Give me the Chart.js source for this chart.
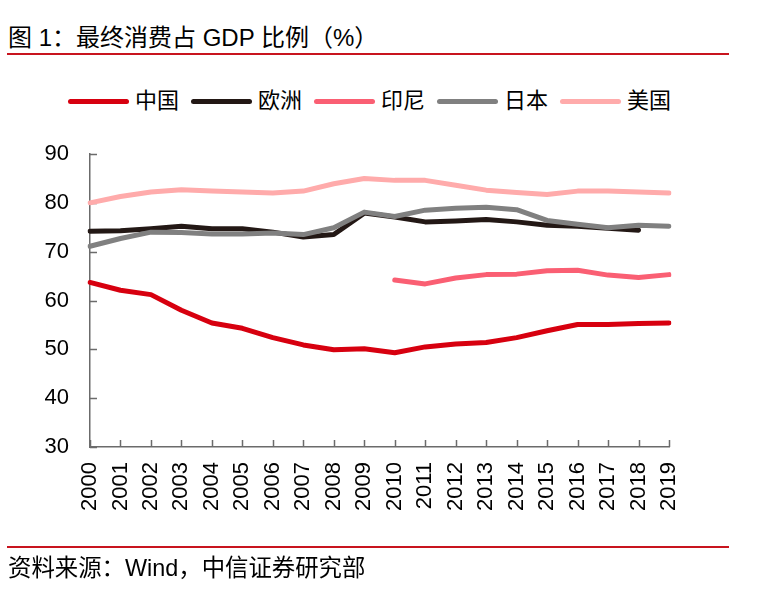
<!DOCTYPE html>
<html>
<head>
<meta charset="utf-8">
<script src="https://cdn.jsdelivr.net/npm/chart.js@4.4.1/dist/chart.umd.min.js"></script>
<style>
  html, body { margin: 0; padding: 0; background: #fff; }
  body { width: 775px; height: 598px; position: relative; overflow: hidden;
         font-family: "Liberation Sans", "Noto Sans CJK SC", sans-serif; color: #000; }
  #chart { position: absolute; left: 0; top: 0; }
  .title { position: absolute; left: 8px; top: 25px; font-size: 24px; line-height: 26px; white-space: nowrap; }
  .rule { position: absolute; left: 7px; width: 722px; height: 2px; background: #c8141e; }
  .source { position: absolute; left: 8px; top: 555px; font-size: 23.4px; line-height: 26px; white-space: nowrap; }
  #legend { position: absolute; left: 68px; top: 89px; display: flex; align-items: center; height: 24px; }
  .item { display: flex; align-items: center; margin-right: 12px; }
  .swatch { width: 61px; height: 5px; border-radius: 3px; margin-right: 6px; }
  .label { font-size: 22px; line-height: 24px; }
</style>
</head>
<body>
<div class="title">图 1：最终消费占 GDP 比例（%）</div>
<div class="rule" style="top:53px"></div>
<div id="legend"></div>
<canvas id="chart" width="775" height="598"></canvas>
<div class="rule" style="top:546px"></div>
<div class="source">资料来源：Wind，中信证券研究部</div>
<script>
// 数据
const years = ['2000', '2001', '2002', '2003', '2004', '2005', '2006', '2007', '2008', '2009',
               '2010', '2011', '2012', '2013', '2014', '2015', '2016', '2017', '2018', '2019'];
const seriesNames = ['中国', '欧洲', '印尼', '日本', '美国'];
const china  = [63.7, 62.1, 61.2, 58.0, 55.4, 54.3, 52.4, 50.9, 49.9, 50.1, 49.3, 50.5, 51.1, 51.4, 52.4, 53.8, 55.1, 55.1, 55.3, 55.4];
const europe = [74.2, 74.3, 74.7, 75.2, 74.7, 74.7, 74.0, 73.0, 73.5, 77.9, 77.1, 76.1, 76.3, 76.6, 76.1, 75.4, 75.2, 74.8, 74.4, null];
const indonesia = [null, null, null, null, null, null, null, null, null, null, 64.2, 63.4, 64.6, 65.3, 65.4, 66.1, 66.2, 65.2, 64.7, 65.3];
const japan  = [71.1, 72.7, 74.0, 73.9, 73.6, 73.6, 73.8, 73.5, 74.9, 78.1, 77.2, 78.5, 78.9, 79.1, 78.6, 76.4, 75.6, 74.9, 75.4, 75.2];
const usa    = [80.0, 81.3, 82.2, 82.7, 82.4, 82.2, 82.0, 82.4, 83.9, 85.0, 84.6, 84.6, 83.6, 82.6, 82.1, 81.7, 82.4, 82.4, 82.2, 82.0];
const yTicks = [30, 40, 50, 60, 70, 80, 90];

const colors = ['#d7000f', '#231815', '#fa5f73', '#808080', '#ffabab'];
const values = [china, europe, indonesia, japan, usa];
const axisColor = '#6b6b6b';
const fontFamily = '"Liberation Sans", "Noto Sans CJK SC", sans-serif';

// 图例 (HTML)
const legendEl = document.getElementById('legend');
seriesNames.forEach(function (name, i) {
    const item = document.createElement('div');
    item.className = 'item';
    item.innerHTML = '<span class="swatch" style="background:' + colors[i] + '"></span><span class="label">' + name + '</span>';
    legendEl.appendChild(item);
});

// 刻度线画在坐标轴内侧
const innerTicks = {
    id: 'innerTicks',
    beforeDatasetsDraw(chart) {
        const { ctx, chartArea } = chart;
        const x = chart.scales.x, y = chart.scales.y;
        ctx.save();
        ctx.strokeStyle = axisColor;
        ctx.lineWidth = 1.5;
        ctx.beginPath();
        x.ticks.forEach(function (t, i) {
            const px = Math.round(x.getPixelForTick(i)) + 0.5;
            ctx.moveTo(px, chartArea.bottom);
            ctx.lineTo(px, chartArea.bottom - 7);
        });
        y.ticks.forEach(function (t, i) {
            const py = Math.round(y.getPixelForTick(i)) + 0.5;
            ctx.moveTo(chartArea.left, py);
            ctx.lineTo(chartArea.left + 7, py);
        });
        ctx.stroke();
        ctx.restore();
    }
};

const ctx = document.getElementById('chart').getContext('2d');
new Chart(ctx, {
    type: 'line',
    data: {
        labels: years,
        datasets: seriesNames.map(function (name, i) {
            return {
                label: name,
                data: values[i],
                borderColor: colors[i],
                backgroundColor: colors[i],
                borderWidth: 5,
                pointRadius: 0,
                tension: 0,
                borderCapStyle: 'round',
                borderJoinStyle: 'round',
                spanGaps: false,
                order: seriesNames.length - i
            };
        })
    },
    options: {
        responsive: false,
        animation: false,
        devicePixelRatio: 1,
        layout: { padding: { top: 154, left: 0, right: 106, bottom: 84 } },
        plugins: {
            legend: { display: false },
            title: { display: false },
            tooltip: { enabled: false }
        },
        scales: {
            x: {
                offset: false,
                grid: { display: true, drawOnChartArea: false, drawTicks: false },
                border: { display: true, color: axisColor, width: 1.5 },
                ticks: {
                    autoSkip: false,
                    maxRotation: 90,
                    minRotation: 90,
                    padding: 15,
                    color: '#000',
                    font: { family: fontFamily, size: 22 }
                },
                afterFit(scale) { scale.height = 67; }
            },
            y: {
                min: yTicks[0],
                max: yTicks[yTicks.length - 1],
                afterBuildTicks(scale) { scale.ticks = yTicks.map(function (v) { return { value: v }; }); },
                grid: { display: true, drawOnChartArea: false, drawTicks: false },
                border: { display: true, color: axisColor, width: 1.5 },
                ticks: {
                    padding: 21,
                    color: '#000',
                    font: { family: fontFamily, size: 22 }
                },
                afterFit(scale) { scale.width = 90; }
            }
        }
    },
    plugins: [innerTicks]
});
</script>
</body>
</html>
